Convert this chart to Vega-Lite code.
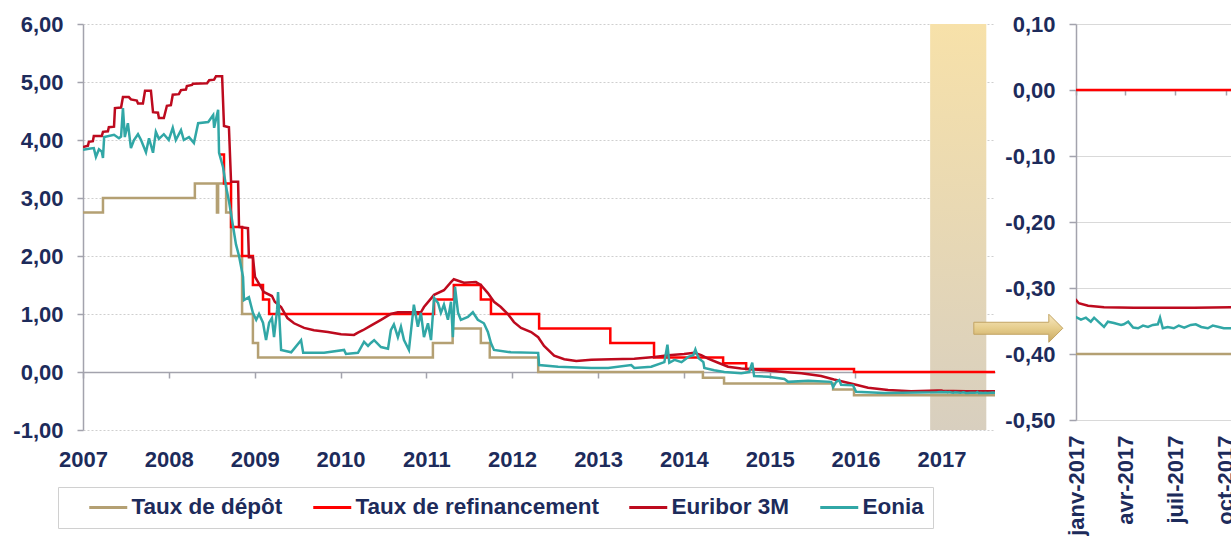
{
"$schema": "https://vega.github.io/schema/vega-lite/v6.json",
"padding": {"left": 12, "top": 13, "right": 0, "bottom": 0},
"background": "white",
"config": {
 "locale": {"number": {"decimal": ",", "thousands": " ", "grouping": [3], "currency": ["", " €"], "minus": "-"}},
 "font": "Liberation Sans",
 "view": {"stroke": null},
 "axis": {"labelFont": "Liberation Sans", "labelFontSize": 22, "labelFontWeight": "bold", "labelColor": "#1d2b5b", "domainColor": "#a3a3ad", "domainWidth": 1.5, "tickColor": "#a3a3ad", "tickWidth": 1.5}
},
"datasets": {
 "rates": [
  {"date":"2007-01-01","series":"Taux de dépôt","value":2.75},
  {"date":"2007-03-27","series":"Taux de dépôt","value":3.00},
  {"date":"2008-04-21","series":"Taux de dépôt","value":3.25},
  {"date":"2008-07-24","series":"Taux de dépôt","value":2.75},
  {"date":"2008-07-29","series":"Taux de dépôt","value":3.25},
  {"date":"2008-09-01","series":"Taux de dépôt","value":2.75},
  {"date":"2008-09-22","series":"Taux de dépôt","value":2.00},
  {"date":"2008-11-08","series":"Taux de dépôt","value":1.00},
  {"date":"2008-12-24","series":"Taux de dépôt","value":0.50},
  {"date":"2009-01-15","series":"Taux de dépôt","value":0.25},
  {"date":"2011-01-29","series":"Taux de dépôt","value":0.50},
  {"date":"2011-04-23","series":"Taux de dépôt","value":0.75},
  {"date":"2011-08-21","series":"Taux de dépôt","value":0.50},
  {"date":"2011-09-28","series":"Taux de dépôt","value":0.25},
  {"date":"2012-04-21","series":"Taux de dépôt","value":0.00},
  {"date":"2014-03-23","series":"Taux de dépôt","value":-0.10},
  {"date":"2014-06-21","series":"Taux de dépôt","value":-0.20},
  {"date":"2015-09-28","series":"Taux de dépôt","value":-0.30},
  {"date":"2015-12-26","series":"Taux de dépôt","value":-0.40},
  {"date":"2017-10-12","series":"Taux de dépôt","value":-0.40},

  {"date":"2008-08-06","series":"Taux de refinancement","value":3.75},
  {"date":"2008-08-23","series":"Taux de refinancement","value":3.25},
  {"date":"2008-09-22","series":"Taux de refinancement","value":2.50},
  {"date":"2008-11-08","series":"Taux de refinancement","value":2.00},
  {"date":"2008-12-24","series":"Taux de refinancement","value":1.50},
  {"date":"2009-02-05","series":"Taux de refinancement","value":1.25},
  {"date":"2009-03-03","series":"Taux de refinancement","value":1.00},
  {"date":"2011-02-03","series":"Taux de refinancement","value":1.25},
  {"date":"2011-04-28","series":"Taux de refinancement","value":1.50},
  {"date":"2011-08-21","series":"Taux de refinancement","value":1.25},
  {"date":"2011-10-03","series":"Taux de refinancement","value":1.00},
  {"date":"2012-04-25","series":"Taux de refinancement","value":0.75},
  {"date":"2013-02-22","series":"Taux de refinancement","value":0.50},
  {"date":"2013-08-27","series":"Taux de refinancement","value":0.25},
  {"date":"2014-06-17","series":"Taux de refinancement","value":0.15},
  {"date":"2014-09-23","series":"Taux de refinancement","value":0.05},
  {"date":"2015-12-26","series":"Taux de refinancement","value":0.00},
  {"date":"2017-10-12","series":"Taux de refinancement","value":0.00},

  {"date":"2007-01-01","series":"Euribor 3M","value":3.88},
  {"date":"2007-01-22","series":"Euribor 3M","value":3.90},
  {"date":"2007-01-26","series":"Euribor 3M","value":3.97},
  {"date":"2007-02-12","series":"Euribor 3M","value":3.98},
  {"date":"2007-02-16","series":"Euribor 3M","value":4.07},
  {"date":"2007-03-22","series":"Euribor 3M","value":4.07},
  {"date":"2007-03-27","series":"Euribor 3M","value":4.14},
  {"date":"2007-04-17","series":"Euribor 3M","value":4.15},
  {"date":"2007-04-21","series":"Euribor 3M","value":4.22},
  {"date":"2007-05-13","series":"Euribor 3M","value":4.23},
  {"date":"2007-05-17","series":"Euribor 3M","value":4.55},
  {"date":"2007-06-12","series":"Euribor 3M","value":4.56},
  {"date":"2007-06-20","series":"Euribor 3M","value":4.74},
  {"date":"2007-07-15","series":"Euribor 3M","value":4.74},
  {"date":"2007-07-24","series":"Euribor 3M","value":4.70},
  {"date":"2007-08-18","series":"Euribor 3M","value":4.68},
  {"date":"2007-08-23","series":"Euribor 3M","value":4.63},
  {"date":"2007-09-13","series":"Euribor 3M","value":4.63},
  {"date":"2007-09-22","series":"Euribor 3M","value":4.85},
  {"date":"2007-10-17","series":"Euribor 3M","value":4.85},
  {"date":"2007-10-26","series":"Euribor 3M","value":4.48},
  {"date":"2007-11-16","series":"Euribor 3M","value":4.47},
  {"date":"2007-11-20","series":"Euribor 3M","value":4.38},
  {"date":"2007-12-11","series":"Euribor 3M","value":4.38},
  {"date":"2007-12-24","series":"Euribor 3M","value":4.59},
  {"date":"2008-01-10","series":"Euribor 3M","value":4.60},
  {"date":"2008-01-18","series":"Euribor 3M","value":4.78},
  {"date":"2008-02-13","series":"Euribor 3M","value":4.79},
  {"date":"2008-02-22","series":"Euribor 3M","value":4.86},
  {"date":"2008-03-14","series":"Euribor 3M","value":4.87},
  {"date":"2008-03-18","series":"Euribor 3M","value":4.93},
  {"date":"2008-04-09","series":"Euribor 3M","value":4.95},
  {"date":"2008-04-13","series":"Euribor 3M","value":4.97},
  {"date":"2008-06-12","series":"Euribor 3M","value":4.98},
  {"date":"2008-06-21","series":"Euribor 3M","value":5.03},
  {"date":"2008-07-12","series":"Euribor 3M","value":5.04},
  {"date":"2008-07-20","series":"Euribor 3M","value":5.10},
  {"date":"2008-08-15","series":"Euribor 3M","value":5.10},
  {"date":"2008-08-23","series":"Euribor 3M","value":4.24},
  {"date":"2008-09-13","series":"Euribor 3M","value":4.22},
  {"date":"2008-09-22","series":"Euribor 3M","value":3.28},
  {"date":"2008-10-22","series":"Euribor 3M","value":3.28},
  {"date":"2008-10-26","series":"Euribor 3M","value":2.50},
  {"date":"2008-12-03","series":"Euribor 3M","value":2.48},
  {"date":"2008-12-07","series":"Euribor 3M","value":1.98},
  {"date":"2008-12-24","series":"Euribor 3M","value":1.98},
  {"date":"2009-01-02","series":"Euribor 3M","value":1.64},
  {"date":"2009-01-15","series":"Euribor 3M","value":1.55},
  {"date":"2009-02-08","series":"Euribor 3M","value":1.38},
  {"date":"2009-03-15","series":"Euribor 3M","value":1.31},
  {"date":"2009-03-27","series":"Euribor 3M","value":1.21},
  {"date":"2009-04-23","series":"Euribor 3M","value":1.12},
  {"date":"2009-05-20","series":"Euribor 3M","value":0.93},
  {"date":"2009-06-17","series":"Euribor 3M","value":0.84},
  {"date":"2009-07-30","series":"Euribor 3M","value":0.76},
  {"date":"2009-09-10","series":"Euribor 3M","value":0.72},
  {"date":"2009-11-08","series":"Euribor 3M","value":0.69},
  {"date":"2010-01-03","series":"Euribor 3M","value":0.65},
  {"date":"2010-02-27","series":"Euribor 3M","value":0.64},
  {"date":"2010-03-16","series":"Euribor 3M","value":0.68},
  {"date":"2010-04-06","series":"Euribor 3M","value":0.72},
  {"date":"2010-05-10","series":"Euribor 3M","value":0.80},
  {"date":"2010-06-22","series":"Euribor 3M","value":0.90},
  {"date":"2010-08-03","series":"Euribor 3M","value":1.00},
  {"date":"2010-09-02","series":"Euribor 3M","value":1.03},
  {"date":"2010-12-09","series":"Euribor 3M","value":1.03},
  {"date":"2010-12-22","series":"Euribor 3M","value":1.12},
  {"date":"2011-02-03","series":"Euribor 3M","value":1.33},
  {"date":"2011-03-17","series":"Euribor 3M","value":1.41},
  {"date":"2011-04-16","series":"Euribor 3M","value":1.55},
  {"date":"2011-04-28","series":"Euribor 3M","value":1.60},
  {"date":"2011-06-10","series":"Euribor 3M","value":1.54},
  {"date":"2011-07-31","series":"Euribor 3M","value":1.55},
  {"date":"2011-08-21","series":"Euribor 3M","value":1.50},
  {"date":"2011-09-20","series":"Euribor 3M","value":1.36},
  {"date":"2011-10-16","series":"Euribor 3M","value":1.21},
  {"date":"2011-11-14","series":"Euribor 3M","value":1.12},
  {"date":"2011-12-14","series":"Euribor 3M","value":1.00},
  {"date":"2012-01-09","series":"Euribor 3M","value":0.86},
  {"date":"2012-02-08","series":"Euribor 3M","value":0.76},
  {"date":"2012-03-22","series":"Euribor 3M","value":0.69},
  {"date":"2012-04-21","series":"Euribor 3M","value":0.60},
  {"date":"2012-05-16","series":"Euribor 3M","value":0.45},
  {"date":"2012-06-28","series":"Euribor 3M","value":0.28},
  {"date":"2012-08-10","series":"Euribor 3M","value":0.22},
  {"date":"2012-09-30","series":"Euribor 3M","value":0.19},
  {"date":"2012-12-03","series":"Euribor 3M","value":0.21},
  {"date":"2013-02-26","series":"Euribor 3M","value":0.22},
  {"date":"2013-06-04","series":"Euribor 3M","value":0.23},
  {"date":"2013-08-28","series":"Euribor 3M","value":0.26},
  {"date":"2013-10-27","series":"Euribor 3M","value":0.29},
  {"date":"2014-01-02","series":"Euribor 3M","value":0.31},
  {"date":"2014-02-14","series":"Euribor 3M","value":0.33},
  {"date":"2014-03-16","series":"Euribor 3M","value":0.29},
  {"date":"2014-04-14","series":"Euribor 3M","value":0.23},
  {"date":"2014-05-27","series":"Euribor 3M","value":0.16},
  {"date":"2014-07-08","series":"Euribor 3M","value":0.09},
  {"date":"2014-09-02","series":"Euribor 3M","value":0.06},
  {"date":"2014-11-13","series":"Euribor 3M","value":0.04},
  {"date":"2015-03-05","series":"Euribor 3M","value":0.00},
  {"date":"2015-05-16","series":"Euribor 3M","value":-0.02},
  {"date":"2015-08-08","series":"Euribor 3M","value":-0.07},
  {"date":"2015-10-02","series":"Euribor 3M","value":-0.13},
  {"date":"2015-12-26","series":"Euribor 3M","value":-0.21},
  {"date":"2016-02-24","series":"Euribor 3M","value":-0.27},
  {"date":"2016-05-19","series":"Euribor 3M","value":-0.31},
  {"date":"2016-08-25","series":"Euribor 3M","value":-0.33},
  {"date":"2016-12-15","series":"Euribor 3M","value":-0.32},
  {"date":"2017-01-01","series":"Euribor 3M","value":-0.318},
  {"date":"2017-01-06","series":"Euribor 3M","value":-0.323},
  {"date":"2017-01-23","series":"Euribor 3M","value":-0.327},
  {"date":"2017-02-21","series":"Euribor 3M","value":-0.329},
  {"date":"2017-04-16","series":"Euribor 3M","value":-0.330},
  {"date":"2017-06-04","series":"Euribor 3M","value":-0.330},
  {"date":"2017-08-04","series":"Euribor 3M","value":-0.330},
  {"date":"2017-10-12","series":"Euribor 3M","value":-0.329},

  {"date":"2007-01-01","series":"Eonia","value":3.83},
  {"date":"2007-01-26","series":"Eonia","value":3.85},
  {"date":"2007-02-16","series":"Eonia","value":3.86},
  {"date":"2007-02-25","series":"Eonia","value":3.71},
  {"date":"2007-03-10","series":"Eonia","value":3.84},
  {"date":"2007-03-22","series":"Eonia","value":3.80},
  {"date":"2007-03-27","series":"Eonia","value":3.69},
  {"date":"2007-04-01","series":"Eonia","value":4.05},
  {"date":"2007-05-13","series":"Eonia","value":4.09},
  {"date":"2007-06-03","series":"Eonia","value":4.03},
  {"date":"2007-06-12","series":"Eonia","value":4.06},
  {"date":"2007-06-20","series":"Eonia","value":4.55},
  {"date":"2007-06-28","series":"Eonia","value":4.05},
  {"date":"2007-07-11","series":"Eonia","value":4.29},
  {"date":"2007-07-24","series":"Eonia","value":3.86},
  {"date":"2007-08-06","series":"Eonia","value":4.00},
  {"date":"2007-08-23","series":"Eonia","value":4.10},
  {"date":"2007-09-05","series":"Eonia","value":4.00},
  {"date":"2007-09-26","series":"Eonia","value":3.79},
  {"date":"2007-10-09","series":"Eonia","value":4.03},
  {"date":"2007-10-26","series":"Eonia","value":3.78},
  {"date":"2007-11-07","series":"Eonia","value":4.14},
  {"date":"2007-11-20","series":"Eonia","value":4.02},
  {"date":"2007-12-11","series":"Eonia","value":4.10},
  {"date":"2008-01-01","series":"Eonia","value":4.00},
  {"date":"2008-01-18","series":"Eonia","value":4.21},
  {"date":"2008-01-31","series":"Eonia","value":4.00},
  {"date":"2008-02-22","series":"Eonia","value":4.17},
  {"date":"2008-03-05","series":"Eonia","value":4.00},
  {"date":"2008-03-27","series":"Eonia","value":4.05},
  {"date":"2008-04-17","series":"Eonia","value":3.95},
  {"date":"2008-05-05","series":"Eonia","value":4.29},
  {"date":"2008-06-17","series":"Eonia","value":4.31},
  {"date":"2008-07-08","series":"Eonia","value":4.43},
  {"date":"2008-07-12","series":"Eonia","value":4.21},
  {"date":"2008-07-29","series":"Eonia","value":4.52},
  {"date":"2008-08-02","series":"Eonia","value":3.78},
  {"date":"2008-08-19","series":"Eonia","value":3.53},
  {"date":"2008-09-01","series":"Eonia","value":3.19},
  {"date":"2008-09-13","series":"Eonia","value":2.95},
  {"date":"2008-10-01","series":"Eonia","value":2.50},
  {"date":"2008-10-13","series":"Eonia","value":2.20},
  {"date":"2008-10-26","series":"Eonia","value":2.00},
  {"date":"2008-11-12","series":"Eonia","value":1.64},
  {"date":"2008-11-16","series":"Eonia","value":1.24},
  {"date":"2008-12-07","series":"Eonia","value":1.29},
  {"date":"2008-12-24","series":"Eonia","value":1.02},
  {"date":"2009-01-07","series":"Eonia","value":0.90},
  {"date":"2009-01-19","series":"Eonia","value":1.00},
  {"date":"2009-02-05","series":"Eonia","value":0.85},
  {"date":"2009-02-18","series":"Eonia","value":0.55},
  {"date":"2009-03-03","series":"Eonia","value":0.85},
  {"date":"2009-03-15","series":"Eonia","value":0.93},
  {"date":"2009-03-24","series":"Eonia","value":0.60},
  {"date":"2009-04-06","series":"Eonia","value":1.07},
  {"date":"2009-04-10","series":"Eonia","value":1.38},
  {"date":"2009-04-23","series":"Eonia","value":0.38},
  {"date":"2009-06-05","series":"Eonia","value":0.34},
  {"date":"2009-07-17","series":"Eonia","value":0.55},
  {"date":"2009-07-26","series":"Eonia","value":0.33},
  {"date":"2009-10-23","series":"Eonia","value":0.33},
  {"date":"2010-01-16","series":"Eonia","value":0.38},
  {"date":"2010-01-24","series":"Eonia","value":0.31},
  {"date":"2010-03-16","series":"Eonia","value":0.33},
  {"date":"2010-04-11","series":"Eonia","value":0.52},
  {"date":"2010-04-28","series":"Eonia","value":0.45},
  {"date":"2010-05-10","series":"Eonia","value":0.50},
  {"date":"2010-05-24","series":"Eonia","value":0.55},
  {"date":"2010-06-22","series":"Eonia","value":0.43},
  {"date":"2010-07-22","series":"Eonia","value":0.40},
  {"date":"2010-08-03","series":"Eonia","value":0.72},
  {"date":"2010-08-16","series":"Eonia","value":0.82},
  {"date":"2010-09-02","series":"Eonia","value":0.60},
  {"date":"2010-09-15","series":"Eonia","value":0.78},
  {"date":"2010-09-28","series":"Eonia","value":0.55},
  {"date":"2010-10-19","series":"Eonia","value":0.38},
  {"date":"2010-11-09","series":"Eonia","value":1.16},
  {"date":"2010-11-26","series":"Eonia","value":0.78},
  {"date":"2010-12-09","series":"Eonia","value":1.02},
  {"date":"2010-12-22","series":"Eonia","value":0.60},
  {"date":"2011-01-08","series":"Eonia","value":0.84},
  {"date":"2011-01-21","series":"Eonia","value":0.55},
  {"date":"2011-02-03","series":"Eonia","value":1.28},
  {"date":"2011-02-20","series":"Eonia","value":1.19},
  {"date":"2011-03-04","series":"Eonia","value":1.02},
  {"date":"2011-03-17","series":"Eonia","value":1.16},
  {"date":"2011-04-03","series":"Eonia","value":0.90},
  {"date":"2011-04-16","series":"Eonia","value":1.21},
  {"date":"2011-04-24","series":"Eonia","value":0.60},
  {"date":"2011-05-03","series":"Eonia","value":1.47},
  {"date":"2011-05-16","series":"Eonia","value":1.02},
  {"date":"2011-05-28","series":"Eonia","value":0.90},
  {"date":"2011-06-27","series":"Eonia","value":0.95},
  {"date":"2011-07-18","series":"Eonia","value":1.03},
  {"date":"2011-08-08","series":"Eonia","value":0.90},
  {"date":"2011-09-03","series":"Eonia","value":0.84},
  {"date":"2011-09-20","series":"Eonia","value":0.69},
  {"date":"2011-10-03","series":"Eonia","value":0.50},
  {"date":"2011-10-16","series":"Eonia","value":0.38},
  {"date":"2011-12-27","series":"Eonia","value":0.34},
  {"date":"2012-04-21","series":"Eonia","value":0.33},
  {"date":"2012-04-25","series":"Eonia","value":0.12},
  {"date":"2012-07-15","series":"Eonia","value":0.09},
  {"date":"2012-12-03","series":"Eonia","value":0.07},
  {"date":"2013-02-13","series":"Eonia","value":0.07},
  {"date":"2013-05-22","series":"Eonia","value":0.12},
  {"date":"2013-06-04","series":"Eonia","value":0.07},
  {"date":"2013-08-15","series":"Eonia","value":0.09},
  {"date":"2013-10-10","series":"Eonia","value":0.17},
  {"date":"2013-10-23","series":"Eonia","value":0.47},
  {"date":"2013-10-31","series":"Eonia","value":0.16},
  {"date":"2013-11-22","series":"Eonia","value":0.21},
  {"date":"2013-12-22","series":"Eonia","value":0.17},
  {"date":"2014-01-20","series":"Eonia","value":0.26},
  {"date":"2014-02-10","series":"Eonia","value":0.29},
  {"date":"2014-02-19","series":"Eonia","value":0.39},
  {"date":"2014-03-04","series":"Eonia","value":0.24},
  {"date":"2014-03-25","series":"Eonia","value":0.17},
  {"date":"2014-03-29","series":"Eonia","value":0.07},
  {"date":"2014-05-10","series":"Eonia","value":0.03},
  {"date":"2014-06-22","series":"Eonia","value":0.00},
  {"date":"2014-09-02","series":"Eonia","value":-0.02},
  {"date":"2014-10-06","series":"Eonia","value":0.00},
  {"date":"2014-10-19","series":"Eonia","value":0.16},
  {"date":"2014-10-27","series":"Eonia","value":-0.07},
  {"date":"2014-12-26","series":"Eonia","value":-0.08},
  {"date":"2015-03-05","series":"Eonia","value":-0.12},
  {"date":"2015-03-21","series":"Eonia","value":-0.17},
  {"date":"2015-06-14","series":"Eonia","value":-0.15},
  {"date":"2015-09-20","series":"Eonia","value":-0.17},
  {"date":"2015-09-28","series":"Eonia","value":-0.26},
  {"date":"2015-10-11","series":"Eonia","value":-0.17},
  {"date":"2015-10-24","series":"Eonia","value":-0.14},
  {"date":"2015-11-01","series":"Eonia","value":-0.22},
  {"date":"2015-12-22","series":"Eonia","value":-0.23},
  {"date":"2016-01-04","series":"Eonia","value":-0.34},
  {"date":"2016-05-02","series":"Eonia","value":-0.36},
  {"date":"2016-12-15","series":"Eonia","value":-0.35},
  {"date":"2017-01-01","series":"Eonia","value":-0.344},
  {"date":"2017-01-10","series":"Eonia","value":-0.348},
  {"date":"2017-01-19","series":"Eonia","value":-0.345},
  {"date":"2017-01-28","series":"Eonia","value":-0.351},
  {"date":"2017-02-03","series":"Eonia","value":-0.345},
  {"date":"2017-02-12","series":"Eonia","value":-0.352},
  {"date":"2017-02-21","series":"Eonia","value":-0.359},
  {"date":"2017-02-28","series":"Eonia","value":-0.351},
  {"date":"2017-03-11","series":"Eonia","value":-0.353},
  {"date":"2017-03-24","series":"Eonia","value":-0.356},
  {"date":"2017-03-29","series":"Eonia","value":-0.355},
  {"date":"2017-04-06","series":"Eonia","value":-0.351},
  {"date":"2017-04-15","series":"Eonia","value":-0.360},
  {"date":"2017-04-24","series":"Eonia","value":-0.361},
  {"date":"2017-05-03","series":"Eonia","value":-0.357},
  {"date":"2017-05-12","series":"Eonia","value":-0.359},
  {"date":"2017-05-21","series":"Eonia","value":-0.356},
  {"date":"2017-05-30","series":"Eonia","value":-0.355},
  {"date":"2017-06-03","series":"Eonia","value":-0.345},
  {"date":"2017-06-08","series":"Eonia","value":-0.361},
  {"date":"2017-06-17","series":"Eonia","value":-0.359},
  {"date":"2017-06-28","series":"Eonia","value":-0.361},
  {"date":"2017-07-07","series":"Eonia","value":-0.357},
  {"date":"2017-07-17","series":"Eonia","value":-0.360},
  {"date":"2017-07-29","series":"Eonia","value":-0.356},
  {"date":"2017-08-07","series":"Eonia","value":-0.355},
  {"date":"2017-08-17","series":"Eonia","value":-0.359},
  {"date":"2017-08-29","series":"Eonia","value":-0.361},
  {"date":"2017-09-07","series":"Eonia","value":-0.357},
  {"date":"2017-09-18","series":"Eonia","value":-0.359},
  {"date":"2017-09-27","series":"Eonia","value":-0.361},
  {"date":"2017-10-12","series":"Eonia","value":-0.361}
 ]
},
"hconcat": [
 {
  "width": 912,
  "height": 406,
  "layer": [
   {
    "data": {"values": [{"start": "2016-11-14", "end": "2017-07-11"}]},
    "mark": {"type": "rect", "color": {"gradient": "linear", "x1": 0, "y1": 0, "x2": 0, "y2": 1, "stops": [{"offset": 0, "color": "#f7e1a9"}, {"offset": 1, "color": "#d8cfbf"}]}},
    "encoding": {
     "x": {"field": "start", "type": "temporal", "title": null,
      "scale": {"domain": [{"year": 2007, "month": 1, "date": 1}, {"year": 2017, "month": 8, "date": 17}]},
      "axis": {"values": [{"year":2007,"month":1,"date":1},{"year":2008,"month":1,"date":1},{"year":2009,"month":1,"date":1},{"year":2010,"month":1,"date":1},{"year":2011,"month":1,"date":1},{"year":2012,"month":1,"date":1},{"year":2013,"month":1,"date":1},{"year":2014,"month":1,"date":1},{"year":2015,"month":1,"date":1},{"year":2016,"month":1,"date":1},{"year":2017,"month":1,"date":1}],
       "format": "%Y", "offset": -58, "tickSize": 6, "labelPadding": 71, "grid": false, "labelFlush": false, "labelOverlap": false}},
     "x2": {"field": "end"},
     "y": {"datum": 6, "type": "quantitative", "title": null,
      "scale": {"domain": [-1, 6]},
      "axis": {"values": [-1, 0, 1, 2, 3, 4, 5, 6], "format": ".2f", "tickSize": 6, "labelPadding": 14, "grid": true, "gridDash": [2, 2], "gridColor": "#cfcfcf", "gridWidth": 1.2, "labelFlush": false}},
     "y2": {"datum": -1}
    }
   },
   {
    "data": {"name": "rates"},
    "transform": [{"filter": {"field": "series", "oneOf": ["Taux de dépôt", "Taux de refinancement"]}}],
    "mark": {"type": "line", "interpolate": "step-after", "strokeWidth": 2.5, "clip": true},
    "encoding": {
     "x": {"field": "date", "type": "temporal", "title": null},
     "y": {"field": "value", "type": "quantitative", "title": null},
     "color": {"field": "series", "type": "nominal",
      "scale": {"domain": ["Taux de dépôt", "Taux de refinancement", "Euribor 3M", "Eonia"], "range": ["#b4a073", "#ff0000", "#bd0a1e", "#31a7a6"]},
      "legend": {"orient": "none", "legendX": -25, "legendY": 463, "direction": "horizontal", "title": null,
       "symbolType": "M-4.316,0M-2,0L2,0", "symbolSize": 361, "symbolStrokeWidth": 3, "symbolOffset": 30,
       "labelFont": "Liberation Sans", "labelFontSize": 22.5, "labelFontWeight": "bold", "labelColor": "#1d2b5b", "labelLimit": 400, "labelOffset": 12,
       "columnPadding": 2, "padding": 9, "strokeColor": "#d0d0d0"}}
    }
   },
   {
    "data": {"name": "rates"},
    "transform": [{"filter": {"field": "series", "oneOf": ["Euribor 3M", "Eonia"]}}],
    "mark": {"type": "line", "strokeWidth": 2.5, "clip": true},
    "encoding": {
     "x": {"field": "date", "type": "temporal", "title": null},
     "y": {"field": "value", "type": "quantitative", "title": null},
     "color": {"field": "series", "type": "nominal"}
    }
   }
  ]
 },
 {
  "width": 156,
  "height": 396,
  "layer": [
   {
    "data": {"name": "rates"},
    "transform": [{"filter": {"field": "series", "oneOf": ["Taux de dépôt", "Taux de refinancement"]}}],
    "mark": {"type": "line", "interpolate": "step-after", "strokeWidth": 2.5, "clip": true},
    "encoding": {
     "x": {"field": "date", "type": "temporal", "title": null,
      "scale": {"domain": [{"year": 2017, "month": 1, "date": 1}, {"year": 2017, "month": 10, "date": 12}]},
      "axis": {"values": [{"year":2017,"month":1,"date":1},{"year":2017,"month":4,"date":1},{"year":2017,"month":7,"date":1},{"year":2017,"month":10,"date":1}],
       "labelExpr": "['janv','févr','mars','avr','mai','juin','juil','août','sept','oct','nov','déc'][month(datum.value)] + '-' + year(datum.value)",
       "labelAngle": -90, "labelAlign": "right", "labelBaseline": "middle", "offset": -330, "tickSize": 5, "labelPadding": 340, "grid": false, "labelFlush": false, "labelOverlap": false}},
     "y": {"field": "value", "type": "quantitative", "title": null,
      "scale": {"domain": [-0.5, 0.1]},
      "axis": {"values": [-0.5, -0.4, -0.3, -0.2, -0.1, 0, 0.1], "format": ".2f", "tickSize": 7, "labelPadding": 14, "grid": true, "gridColor": "#d9d9d9", "gridWidth": 1.2, "labelFlush": false}},
     "color": {"field": "series", "type": "nominal",
      "scale": {"domain": ["Taux de dépôt", "Taux de refinancement", "Euribor 3M", "Eonia"], "range": ["#b4a073", "#ff0000", "#bd0a1e", "#31a7a6"]},
      "legend": null}
    }
   },
   {
    "data": {"name": "rates"},
    "transform": [{"filter": {"field": "series", "oneOf": ["Euribor 3M", "Eonia"]}}],
    "mark": {"type": "line", "strokeWidth": 2.5, "clip": true},
    "encoding": {
     "x": {"field": "date", "type": "temporal", "title": null},
     "y": {"field": "value", "type": "quantitative", "title": null},
     "color": {"field": "series", "type": "nominal", "legend": null}
    }
   },
   {
    "data": {"values": [{"date": "2016-09-18", "value": -0.361}]},
    "mark": {"type": "point", "shape": "M-1,-0.135L0.685,-0.135L0.685,-0.315L1,0L0.685,0.315L0.685,0.135L-1,0.135Z", "size": 7921, "filled": true, "opacity": 1,
     "fill": {"gradient": "linear", "x1": 0, "y1": 0, "x2": 0, "y2": 1, "stops": [{"offset": 0, "color": "#f8e9c3"}, {"offset": 0.5, "color": "#e6cd8c"}, {"offset": 1, "color": "#c8a862"}]},
     "stroke": "#c2a463", "strokeWidth": 1},
    "encoding": {
     "x": {"field": "date", "type": "temporal", "title": null},
     "y": {"field": "value", "type": "quantitative", "title": null}
    }
   }
  ]
 }
],
"spacing": 81,
"bounds": "flush",
"resolve": {"scale": {"color": "independent"}, "legend": {"color": "independent"}}
}
